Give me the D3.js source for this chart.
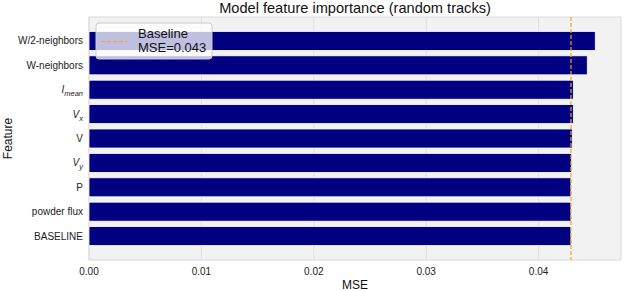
<!DOCTYPE html>
<html>
<head>
<meta charset="utf-8">
<script src="https://cdn.jsdelivr.net/npm/d3@7"></script>
<style>
  body { margin: 0; background: #fff; }
  svg { font-family: "Liberation Sans", Arial, sans-serif; }
</style>
</head>
<body>
<svg id="chart" width="624" height="291"></svg>
<script>
// feature names, top to bottom (sub = subscript part, italic)
const features = [
    { name: "W/2-neighbors" },
    { name: "W-neighbors" },
    { name: "I", sub: "mean", italic: true },
    { name: "V", sub: "x", italic: true },
    { name: "V" },
    { name: "V", sub: "y", italic: true },
    { name: "P" },
    { name: "powder flux" },
    { name: "BASELINE" }
];
const mseValues = [0.04504, 0.04433, 0.04309, 0.04309, 0.04300, 0.04294, 0.04288, 0.04288, 0.04288];
const baselineMSE = 0.04288;
const xTicks = [0, 0.01, 0.02, 0.03, 0.04];

const svg = d3.select("#chart");
const plotL = 89, plotR = 621, plotT = 17, plotB = 260;

const x = d3.scaleLinear().domain([0, 0.04733]).range([plotL, plotR]);
const y = d3.scaleLinear().domain([-0.98, features.length - 1 + 0.98]).range([plotT, plotB]);
const barH = y(0.78) - y(0);

// fondo
svg.append("rect")
    .attr("x", plotL).attr("y", plotT)
    .attr("width", plotR - plotL).attr("height", plotB - plotT)
    .attr("fill", "#f2f2f2")
    .attr("stroke", "#d9d9d9").attr("stroke-width", 1);

// grid
svg.append("g")
    .selectAll("line")
    .data(xTicks)
    .join("line")
    .attr("x1", d => x(d)).attr("x2", d => x(d))
    .attr("y1", plotT).attr("y2", plotB)
    .attr("stroke", "#dedede").attr("stroke-width", 1);

// barras
svg.append("g")
    .selectAll("rect")
    .data(mseValues)
    .join("rect")
    .attr("x", x(0))
    .attr("y", (d, i) => y(i) - barH / 2)
    .attr("width", d => x(d) - x(0))
    .attr("height", barH)
    .attr("fill", "#000080")
    .attr("stroke", "#ffffff")
    .attr("stroke-width", 0.8);

// baseline
svg.append("line")
    .attr("x1", x(baselineMSE)).attr("x2", x(baselineMSE))
    .attr("y1", plotT).attr("y2", plotB)
    .attr("stroke", "#f5a623").attr("stroke-width", 1.2)
    .attr("stroke-dasharray", "4,2");

// eje X
svg.append("g")
    .selectAll("text")
    .data(xTicks)
    .join("text")
    .attr("x", d => x(d))
    .attr("y", 275)
    .attr("text-anchor", "middle")
    .style("font-size", "10px")
    .style("fill", "#222")
    .text(d => d.toFixed(2));

// eje Y
const yl = svg.append("g")
    .selectAll("text")
    .data(features)
    .join("text")
    .attr("x", plotL - 6)
    .attr("y", (d, i) => y(i) + 3.5)
    .attr("text-anchor", "end")
    .style("font-size", "10px")
    .style("fill", "#222");

yl.append("tspan")
    .style("font-style", d => d.italic ? "italic" : "normal")
    .text(d => d.name);
yl.filter(d => d.sub)
    .append("tspan")
    .attr("dy", 3)
    .style("font-style", "italic")
    .style("font-size", "7.5px")
    .text(d => d.sub);

// titulos
svg.append("text")
    .attr("x", (plotL + plotR) / 2).attr("y", 13)
    .attr("text-anchor", "middle")
    .style("font-size", "14.6px")
    .style("fill", "#111")
    .text("Model feature importance (random tracks)");

svg.append("text")
    .attr("x", (plotL + plotR) / 2).attr("y", 289)
    .attr("text-anchor", "middle")
    .style("font-size", "12px")
    .style("fill", "#111")
    .text("MSE");

svg.append("text")
    .attr("transform", `translate(12, ${(plotT + plotB) / 2}) rotate(-90)`)
    .attr("text-anchor", "middle")
    .style("font-size", "12px")
    .style("fill", "#111")
    .text("Feature");

// leyenda
const legend = svg.append("g").attr("transform", "translate(96, 23)");
legend.append("rect")
    .attr("width", 116).attr("height", 36)
    .attr("rx", 3)
    .attr("fill", "#ffffff").attr("fill-opacity", 0.75)
    .attr("stroke", "#cccccc").attr("stroke-width", 1);
legend.append("line")
    .attr("x1", 5).attr("x2", 31).attr("y1", 18.5).attr("y2", 18.5)
    .attr("stroke", "#f5a623").attr("stroke-width", 1.2)
    .attr("stroke-dasharray", "4,2");
legend.append("text")
    .attr("x", 42).attr("y", 15)
    .style("font-size", "13px").style("fill", "#111")
    .text("Baseline");
legend.append("text")
    .attr("x", 42).attr("y", 29)
    .style("font-size", "13px").style("fill", "#111")
    .text("MSE=0.043");
</script>
</body>
</html>
